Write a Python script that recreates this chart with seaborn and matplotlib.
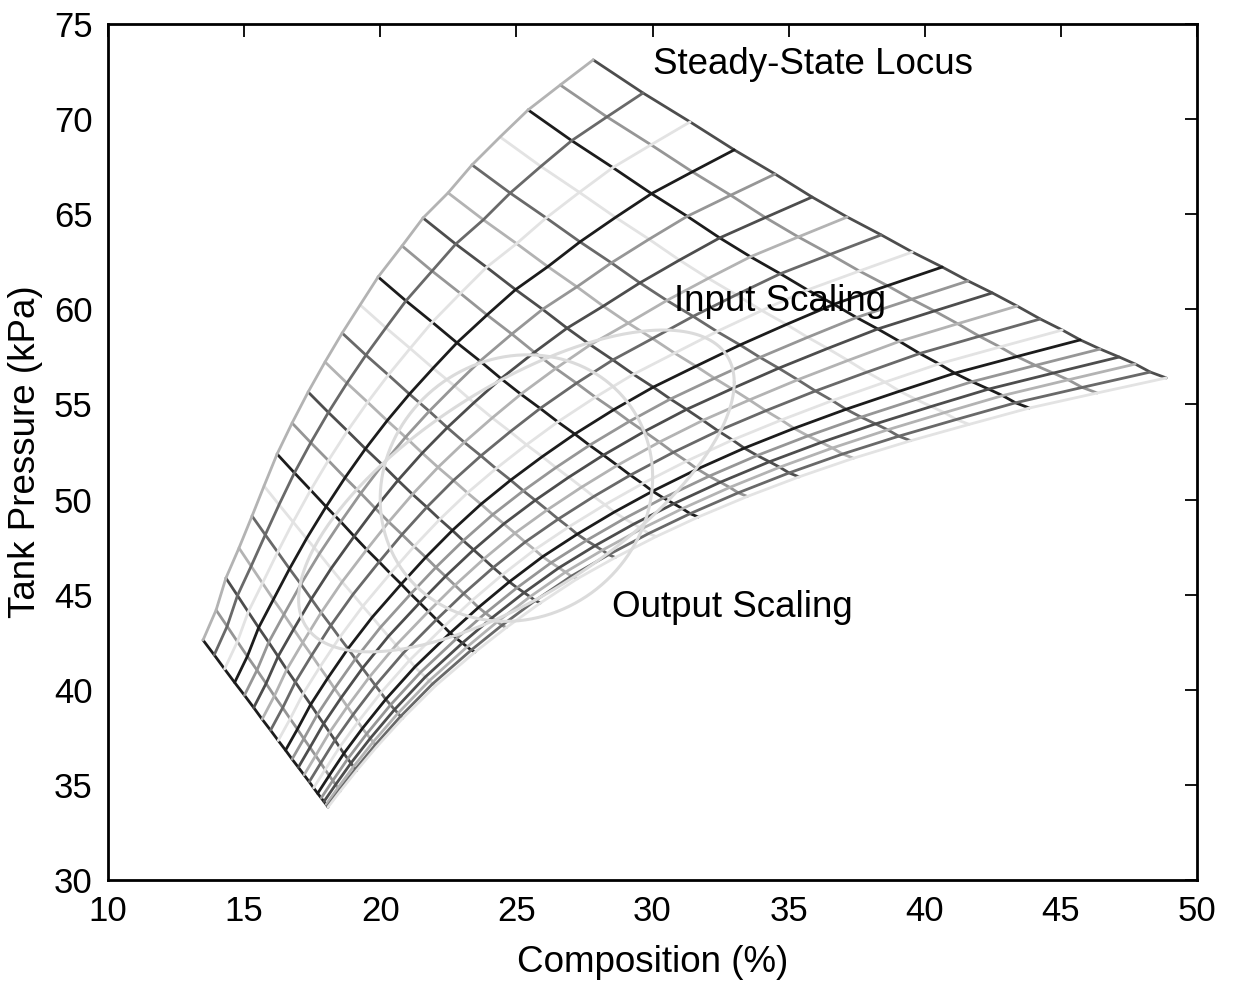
import numpy as np
import pandas as pd
import matplotlib
matplotlib.use("Agg")
import matplotlib.pyplot as plt
import seaborn as sns

sns.set_theme(style="white")
plt.rcParams['font.family'] = ['Liberation Sans', 'DejaVu Sans']
plt.rcParams['text.color'] = 'black'
plt.rcParams['axes.labelcolor'] = 'black'

# ---- boundary nodes of the steady-state locus mesh ----
# upper-left edge A->B
AB_x = [13.49, 13.97, 14.33, 14.81, 15.29, 15.73, 16.21, 16.76, 17.35, 17.97, 18.60,
        19.26, 19.92, 20.80, 21.57, 22.49, 23.37, 24.40, 25.43, 26.61, 27.82]
AB_y = [42.61, 44.19, 45.87, 47.45, 49.13, 50.71, 52.39, 54.02, 55.65, 57.23, 58.75,
        60.23, 61.70, 63.33, 64.80, 66.12, 67.59, 69.06, 70.48, 71.79, 73.11]
# lower edge D->C
DC_x = [18.08, 18.53, 19.13, 19.88, 20.83, 22.03, 23.48, 24.63, 25.88, 27.23, 28.63,
        30.13, 31.68, 33.48, 35.38, 37.38, 39.48, 41.63, 43.84, 46.33, 48.87]
DC_y = [33.83, 34.67, 35.75, 37.02, 38.51, 40.21, 41.98, 43.27, 44.56, 45.83, 46.95,
        48.05, 49.08, 50.16, 51.19, 52.17, 53.09, 53.95, 54.81, 55.60, 56.39]
# lower-left edge A->D
AD_x = [13.49, 13.90, 14.28, 14.65, 15.01, 15.35, 15.66, 15.97, 16.25, 16.52, 16.76,
        16.99, 17.20, 17.39, 17.55, 17.70, 17.83, 17.93, 18.01, 18.06, 18.08]
AD_y = [42.61, 41.83, 41.09, 40.38, 39.71, 39.06, 38.45, 37.87, 37.33, 36.82, 36.35,
        35.92, 35.52, 35.16, 34.84, 34.55, 34.31, 34.12, 33.97, 33.87, 33.83]
# upper-right edge B->C
BC_x = [27.82, 29.65, 31.38, 33.00, 34.50, 35.86, 37.15, 38.40, 39.54, 40.64, 41.59,
        42.48, 43.39, 44.24, 45.05, 45.71, 46.44, 47.14, 47.73, 48.28, 48.87]
BC_y = [73.11, 71.37, 69.85, 68.38, 67.11, 65.90, 64.85, 63.91, 63.01, 62.22, 61.49,
        60.86, 60.17, 59.49, 58.91, 58.39, 57.91, 57.49, 57.12, 56.70, 56.39]

# grey levels of the line colour cycle
line_greys = [0.11, 0.59, 0.30, 0.70, 0.41, 0.89]

# scaling ellipses: centre and two conjugate half-vectors (composition, pressure)
input_center = (25.0, 50.45)
input_u = (8.0, 5.7)
input_v = (0.0, 6.25)
output_center = (25.0, 50.6)
output_u = (5.0, 0.3)
output_v = (0.2, 7.0)
ellipse_grey = 0.86

labels = {"Steady-State Locus": (30.0, 72.85),
          "Input Scaling": (30.8, 60.4),
          "Output Scaling": (28.5, 44.3)}

# ---- build mesh nodes (transfinite blend of the four read edges) ----
def arcfrac(x, y):
    x = np.asarray(x); y = np.asarray(y) * 0.7
    d = np.r_[0, np.cumsum(np.hypot(np.diff(x), np.diff(y)))]
    return d / d[-1]

s = 0.5 * (arcfrac(AD_x, AD_y) + arcfrac(BC_x, BC_y))
t = 0.5 * (arcfrac(AB_x, AB_y) + arcfrac(DC_x, DC_y))
S, T = np.meshgrid(s, t, indexing='ij')

def blend(L, R, Top, Bot):
    L, R, Top, Bot = map(np.asarray, (L, R, Top, Bot))
    return ((1 - S) * Top[None, :] + S * Bot[None, :]
            + (1 - T) * L[:, None] + T * R[:, None]
            - ((1 - S) * (1 - T) * Top[0] + (1 - S) * T * Top[-1]
               + S * (1 - T) * Bot[0] + S * T * Bot[-1]))

X = blend(AD_x, BC_x, AB_x, DC_x)
Y = blend(AD_y, BC_y, AB_y, DC_y)
n_i, n_j = X.shape

rows = []
lid = 0
for j in range(n_j):           # lines from upper-left edge to lower edge
    for i in range(n_i):
        rows.append((lid, X[i, j], Y[i, j]))
    lid += 1
for i in range(n_i):           # lines from lower-left edge to upper-right edge
    for j in range(n_j):
        rows.append((lid, X[i, j], Y[i, j]))
    lid += 1
df = pd.DataFrame(rows, columns=["line", "x", "y"])
palette = [str(line_greys[k % len(line_greys)]) for k in range(lid)]

fig = plt.figure(figsize=(12.36, 9.81), dpi=100)
ax = fig.add_axes([0.0874, 0.1030, 0.8811, 0.8726])

sns.lineplot(data=df, x="x", y="y", hue="line", palette=palette, sort=False,
             estimator=None, legend=False, linewidth=2.0, ax=ax)

tt = np.linspace(0, 2 * np.pi, 400)
ell = []
for name, c, u, v in [("in", input_center, input_u, input_v),
                      ("out", output_center, output_u, output_v)]:
    ex = c[0] + u[0] * np.cos(tt) + v[0] * np.sin(tt)
    ey = c[1] + u[1] * np.cos(tt) + v[1] * np.sin(tt)
    ell.append(pd.DataFrame({"x": ex, "y": ey, "e": name}))
edf = pd.concat(ell)
sns.lineplot(data=edf, x="x", y="y", hue="e", palette=[str(ellipse_grey)] * 2,
             sort=False, estimator=None, legend=False, linewidth=2.2, ax=ax)

for txt, (x, y) in labels.items():
    ax.text(x, y, txt, fontsize=26.5, ha="left", va="center", color="black")

ax.set_xlim(10, 50)
ax.set_ylim(30, 75)
ax.set_xticks(np.arange(10, 51, 5))
ax.set_yticks(np.arange(30, 76, 5))
ax.set_xlabel("Composition (%)", fontsize=26.5, labelpad=12, color="black")
ax.set_ylabel("Tank Pressure (kPa)", fontsize=26.5, labelpad=8, color="black")
ax.tick_params(direction="in", length=9, width=1.3, top=True, right=True,
               labelsize=25, pad=11, colors="black")
for sp in ax.spines.values():
    sp.set_color("black")
    sp.set_linewidth(2.0)
ax.grid(False)
fig.savefig("out.png", dpi=100)
